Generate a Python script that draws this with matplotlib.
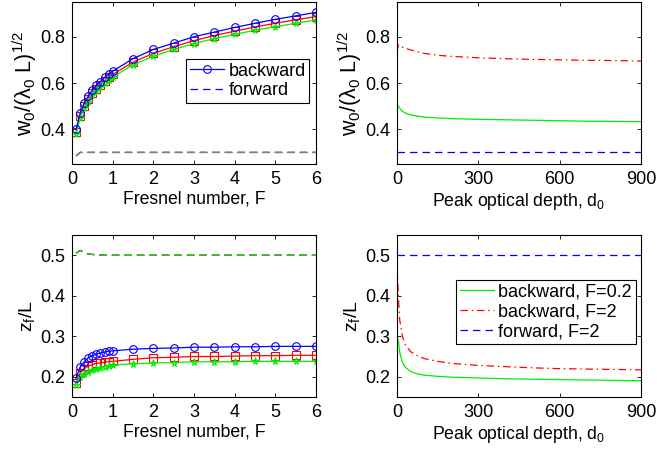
import matplotlib
matplotlib.use('Agg')
import matplotlib.pyplot as plt

plt.rcParams['font.family'] = ['Liberation Sans', 'DejaVu Sans']
plt.rcParams['mathtext.fontset'] = 'custom'
plt.rcParams['mathtext.rm'] = 'Liberation Sans'
plt.rcParams['mathtext.it'] = 'Liberation Sans'
plt.rcParams['mathtext.default'] = 'regular'

# Fresnel number scan
F = [0.1, 0.2, 0.3, 0.4, 0.5, 0.6, 0.7, 0.8, 0.9, 1.0,
     1.5, 2, 2.5, 3, 3.5, 4, 4.5, 5, 5.5, 6]

w_back_b = [0.400, 0.470, 0.515, 0.543, 0.570, 0.590, 0.606, 0.624, 0.638, 0.651,
            0.705, 0.745, 0.772, 0.800, 0.820, 0.840, 0.858, 0.875, 0.890, 0.905]
w_back_r = [0.388, 0.458, 0.500, 0.530, 0.556, 0.576, 0.592, 0.610, 0.624, 0.637,
            0.690, 0.728, 0.757, 0.783, 0.805, 0.824, 0.842, 0.858, 0.873, 0.887]
w_back_g = [0.378, 0.450, 0.490, 0.520, 0.546, 0.566, 0.582, 0.599, 0.613, 0.626,
            0.678, 0.716, 0.745, 0.770, 0.792, 0.810, 0.828, 0.843, 0.858, 0.872]
w_fwd = [0.285, 0.300, 0.300, 0.300, 0.300, 0.300, 0.300, 0.300, 0.300, 0.300,
         0.300, 0.300, 0.300, 0.300, 0.300, 0.300, 0.300, 0.300, 0.300, 0.300]

z_back_b = [0.196, 0.224, 0.237, 0.247, 0.252, 0.256, 0.259, 0.261, 0.263, 0.264,
            0.268, 0.270, 0.271, 0.273, 0.273, 0.274, 0.274, 0.275, 0.275, 0.275]
z_back_r = [0.184, 0.210, 0.220, 0.226, 0.230, 0.233, 0.234, 0.236, 0.237, 0.238,
            0.243, 0.247, 0.248, 0.250, 0.250, 0.251, 0.252, 0.252, 0.253, 0.253]
z_back_g = [0.180, 0.200, 0.208, 0.212, 0.216, 0.219, 0.222, 0.225, 0.227, 0.229,
            0.232, 0.234, 0.235, 0.237, 0.237, 0.237, 0.238, 0.238, 0.238, 0.238]
z_fwd = [0.505, 0.512, 0.507, 0.503, 0.502, 0.501, 0.501, 0.500, 0.500, 0.500,
         0.500, 0.500, 0.500, 0.500, 0.500, 0.500, 0.500, 0.500, 0.500, 0.500]

# peak optical depth scan
d0 = [0, 5, 10, 20, 30, 50, 75, 100, 150, 200, 300, 400, 500, 600, 700, 800, 900]
d0_g = d0[1:]

w_d_g = [0.500, 0.490, 0.478, 0.470, 0.462, 0.457, 0.453, 0.449, 0.446,
         0.443, 0.441, 0.439, 0.437, 0.435, 0.434, 0.433]
w_d_r = [0.735, 0.765, 0.762, 0.755, 0.750, 0.743, 0.735, 0.728, 0.720, 0.715,
         0.709, 0.705, 0.702, 0.700, 0.698, 0.697, 0.695]
w_d_b = [0.300] * len(d0)

z_d_g = [0.290, 0.260, 0.235, 0.224, 0.213, 0.207, 0.204, 0.201, 0.199,
         0.197, 0.195, 0.194, 0.193, 0.192, 0.191, 0.190]
z_d_r = [0.470, 0.400, 0.340, 0.300, 0.280, 0.262, 0.252, 0.245, 0.238, 0.233,
         0.228, 0.225, 0.222, 0.220, 0.219, 0.218, 0.217]
z_d_b = [0.500] * len(d0)

blue, red, green = '#0000ff', '#ff0000', '#00ee00'
lw = 0.9
dash = (0, (6, 4))
dashdot = (0, (6, 3, 1.2, 3))
tick_fs = 13
xlab_fs = 12.7
ylab_fs = 14
leg_fs = 13

fig = plt.figure(figsize=(6.57, 4.49), dpi=100)
W, H = 657, 449


def box(x0, y0, x1, y1):
    return fig.add_axes([x0 / W, 1 - y1 / H, (x1 - x0) / W, (y1 - y0) / H])


ax1 = box(72, 2, 316, 164)
ax2 = box(397, 2, 641, 164)
ax3 = box(72, 235, 316, 397)
ax4 = box(397, 235, 641, 397)

legkw = dict(loc='upper right', fancybox=False, edgecolor='k', framealpha=1,
             fontsize=leg_fs, handlelength=1.9, borderpad=0.2,
             labelspacing=0.15, handletextpad=0.25, borderaxespad=0)

wlabel = r'w$_0$/($\lambda_0$ L)$^{1/2}$'
ms = 5.5
# top left
ax1.plot(F, w_back_r, '-s', color=red, lw=lw, ms=ms, mfc='none', mew=0.8)
ax1.plot(F, w_back_g, '-*', color=green, lw=lw, ms=ms, mfc='none', mew=0.8)
hb, = ax1.plot(F, w_back_b, '-o', color=blue, lw=lw, ms=ms, mfc='none', mew=0.8)
hf, = ax1.plot(F, w_fwd, linestyle=dash, color=blue, lw=lw)
ax1.plot(F, w_fwd, linestyle=dash, color=red, lw=lw)
ax1.plot(F, w_fwd, linestyle=dash, color='#5aa04a', lw=lw)
ax1.set_xlim(0, 6)
ax1.set_ylim(0.25, 0.95)
ax1.set_xticks([0, 1, 2, 3, 4, 5, 6])
ax1.set_yticks([0.4, 0.6, 0.8])
ax1.set_xlabel('Fresnel number, F', fontsize=xlab_fs, labelpad=2)
ax1.set_ylabel(wlabel, fontsize=15.5, labelpad=1)
leg = ax1.legend([hb, hf], ['backward', 'forward'],
                 bbox_to_anchor=(0.973, 0.648), **legkw)
leg.get_frame().set_linewidth(0.8)

# top right
ax2.plot(d0, w_d_r, linestyle=dashdot, color=red, lw=lw)
ax2.plot(d0_g, w_d_g, '-', color=green, lw=lw)
ax2.plot(d0, w_d_b, linestyle=dash, color=blue, lw=lw)
ax2.set_xlim(0, 900)
ax2.set_ylim(0.25, 0.95)
ax2.set_xticks([0, 300, 600, 900])
ax2.set_yticks([0.4, 0.6, 0.8])
ax2.set_xlabel('Peak optical depth, d$_0$', fontsize=xlab_fs, labelpad=2)
ax2.set_ylabel(wlabel, fontsize=15.5, labelpad=1)

# bottom left
ax3.plot(F, z_back_r, '-s', color=red, lw=lw, ms=ms, mfc='none', mew=0.8)
ax3.plot(F, z_back_g, '-*', color=green, lw=lw, ms=ms, mfc='none', mew=0.8)
ax3.plot(F, z_back_b, '-o', color=blue, lw=lw, ms=ms, mfc='none', mew=0.8)
ax3.plot(F, z_fwd, linestyle=dash, color=blue, lw=lw)
ax3.plot(F, z_fwd, linestyle=dash, color=red, lw=lw)
ax3.plot(F, z_fwd, linestyle=dash, color=green, lw=lw)
ax3.set_xlim(0, 6)
ax3.set_ylim(0.15, 0.55)
ax3.set_xticks([0, 1, 2, 3, 4, 5, 6])
ax3.set_yticks([0.2, 0.3, 0.4, 0.5])
ax3.set_xlabel('Fresnel number, F', fontsize=xlab_fs, labelpad=2)
ax3.set_ylabel('z$_f$/L', fontsize=ylab_fs, labelpad=2)

# bottom right
hg, = ax4.plot(d0_g, z_d_g, '-', color=green, lw=lw)
hr, = ax4.plot(d0, z_d_r, linestyle=dashdot, color=red, lw=lw)
hbl, = ax4.plot(d0, z_d_b, linestyle=dash, color=blue, lw=lw)
ax4.set_xlim(0, 900)
ax4.set_ylim(0.15, 0.55)
ax4.set_xticks([0, 300, 600, 900])
ax4.set_yticks([0.2, 0.3, 0.4, 0.5])
ax4.set_xlabel('Peak optical depth, d$_0$', fontsize=xlab_fs, labelpad=2)
ax4.set_ylabel('z$_f$/L', fontsize=ylab_fs, labelpad=2)
leg = ax4.legend([hg, hr, hbl], ['backward, F=0.2', 'backward, F=2', 'forward, F=2'],
                 bbox_to_anchor=(0.978, 0.722), **legkw)
leg.get_frame().set_linewidth(0.8)

for ax in (ax1, ax2, ax3, ax4):
    ax.tick_params(direction='in', top=True, right=True, length=3, width=0.6,
                   labelsize=tick_fs, pad=5)
    for s in ax.spines.values():
        s.set_linewidth(0.8)

fig.savefig('out.png', dpi=100)
